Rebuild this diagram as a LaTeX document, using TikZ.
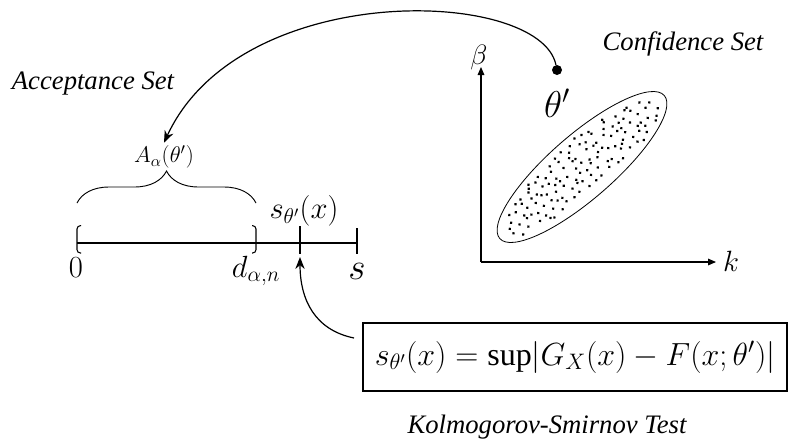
\RequirePackage{fix-cm}
\documentclass[tikz,border=0pt]{standalone}
\usepackage{amsmath}
\usepackage{fontspec}
\setmainfont{Liberation Serif}
\usetikzlibrary{arrows.meta,positioning,decorations.pathreplacing}

\begin{document}
\begin{tikzpicture}[
  x=0.75pt,y=-0.75pt,
  title/.style={font=\fontsize{20}{23}\selectfont\itshape},
  mlabel/.style={font=\fontsize{23}{26}\selectfont,inner sep=1pt},
  arrow/.style={-{Stealth[length=9pt,width=7pt]},line width=0.9pt},
  axis/.style={-{Triangle[length=6pt,width=5pt]},line width=0.8pt},
  ticks/.style={line width=0.8pt}
]
\useasboundingbox (0,0) rectangle (789,444);

\node[title] (acc) at (93,84) {Acceptance Set};
\node[title] (conf) at (683,44) {Confidence Set};
\node[title] (kstest) at (547,427) {Kolmogorov-Smirnov Test};

\coordinate (zero) at (77,243);
\coordinate (dval) at (256,243);
\coordinate (sval) at (300,243);
\coordinate (send) at (357,243);
\draw[ticks] (zero) -- (send);
\draw[ticks] ([yshift=12.5pt]sval) -- ([yshift=-8pt]sval);
\draw[ticks] ([yshift=11pt]send) -- ([yshift=-8pt]send);
\draw[ticks,rounded corners=2.5pt] ([shift={(3pt,13pt)}]zero) -| ([yshift=-7.5pt]zero) -- ++(4,0);
\draw[ticks,rounded corners=2.5pt] ([shift={(-3pt,13pt)}]dval) -| ([yshift=-7.5pt]dval) -- ++(-4,0);
\node[mlabel] (zlbl) at (76,268) {$0$};
\node[mlabel] (dlbl) at (256,271) {$d_{\alpha,n}$};
\node[mlabel,font=\fontsize{28}{30}\selectfont] (slbl) at (357,271) {$s$};
\node[mlabel] (stat) at (304,211) {$s_{\theta'}(x)$};

\draw[line width=0.7pt,decorate,decoration={brace,amplitude=24pt}] (77,203) -- (256,203);
\node[font=\fontsize{17}{20}\selectfont,inner sep=2pt] (accset) at (164,157) {$A_\alpha(\theta')$};

\coordinate (origin) at (481,262);
\draw[axis] (origin) -- (481,67);
\draw[axis] (origin) -- (716,262);
\node[font=\fontsize{21}{24}\selectfont] (beta) at (479,57) {$\beta$};
\node[font=\fontsize{22}{25}\selectfont] (kk) at (731,261) {$k$};

\begin{scope}[shift={(582,167)},rotate=41]
  \draw[line width=0.6pt] (0,0) ellipse [x radius=109, y radius=32];
  \pgfmathsetseed{7}
  \foreach \u in {-96,-87,...,96}{
    \foreach \v in {-24,-17,...,24}{
      \pgfmathsetmacro\px{\u+7*rnd-3.5}
      \pgfmathsetmacro\py{\v+5*rnd-2.5}
      \pgfmathsetmacro\inside{(\px/100)^2+(\py/27)^2<1 ? 1 : 0}
      \ifdim\inside pt>0.5pt
        \fill (\px,\py) circle[radius=1.15pt];
      \fi
    }
  }
\end{scope}

\node[circle,fill,inner sep=0pt,minimum size=7.5pt] (dot) at (557,70) {};
\node[font=\fontsize{28}{32}\selectfont] (theta) at (557,103) {$\theta'$};
\draw[arrow] (dot) .. controls (540,-12) and (240,-22) .. (accset.north);

\node[draw,line width=0.8pt,minimum width=318pt,minimum height=51pt,inner sep=2pt,
  font=\fontsize{24}{28}\selectfont] (ksbox) at (575,357)
  {$s_{\theta'}(x)=\sup\lvert G_X(x)-F(x;\theta')\rvert$};
\coordinate (kstail) at (354,338);
\coordinate (stip) at (300,257);
\draw[arrow] (kstail) .. controls (315,330) and (300,300) .. (stip);
\end{tikzpicture}
\end{document}
